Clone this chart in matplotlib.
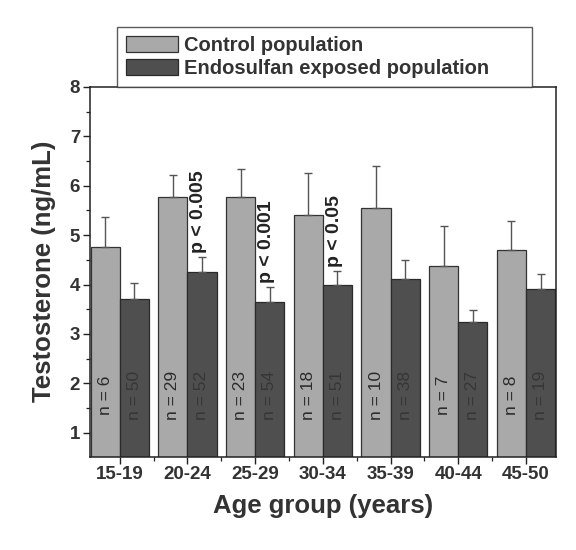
"""Serum testosterone by age group: control vs endosulfan exposed population."""

import matplotlib as mpl

mpl.use("Agg")
import matplotlib.pyplot as plt
import numpy as np
from matplotlib.ticker import FixedLocator, MultipleLocator

# age groups and group sizes
groups = ["15-19", "20-24", "25-29", "30-34", "35-39", "40-44", "45-50"]
n_control = [6, 29, 23, 18, 10, 7, 8]
n_exposed = [50, 52, 54, 51, 38, 27, 19]

# testosterone (ng/mL), mean and upper error (SD)
control_mean = [4.77, 5.78, 5.77, 5.40, 5.55, 4.38, 4.70]
control_err = [0.59, 0.44, 0.56, 0.86, 0.85, 0.80, 0.59]
exposed_mean = [3.71, 4.26, 3.65, 3.99, 4.11, 3.24, 3.91]
exposed_err = [0.33, 0.29, 0.31, 0.28, 0.38, 0.25, 0.30]

# significance labels (group index -> text)
p_labels = {1: "p < 0.005", 2: "p < 0.001", 3: "p < 0.05"}

FONT = ["Liberation Sans", "DejaVu Sans"]
C_COL = "#a9a9a9"
E_COL = "#4f4f4f"


def main():
    plt.rcParams["font.family"] = FONT
    fig = plt.figure(figsize=(5.76, 5.5), dpi=100)
    ax = fig.add_axes([0.156, 0.170, 0.809, 0.672])

    x = np.arange(1, len(groups) + 1)
    w = 0.43
    xc = x - w / 2
    xe = x + w / 2
    err_kw = dict(ecolor="#555555", elinewidth=1.0, capsize=3, capthick=1.0)
    ax.bar(xc, control_mean, w, color=C_COL, edgecolor="#333333",
           linewidth=0.9, yerr=[np.zeros(7), control_err], error_kw=err_kw,
           label="Control population")
    ax.bar(xe, exposed_mean, w, color=E_COL, edgecolor="#2a2a2a",
           linewidth=0.9, yerr=[np.zeros(7), exposed_err], error_kw=err_kw,
           label="Endosulfan exposed population")

    for i in range(len(groups)):
        ax.text(xc[i], 1.75, f"n = {n_control[i]}", rotation=90, ha="center",
                va="center", fontsize=12.5, color="#2b2b2b")
        ax.text(xe[i], 1.75, f"n = {n_exposed[i]}", rotation=90, ha="center",
                va="center", fontsize=12.5, color="#363636")
    for i, txt in p_labels.items():
        ytop = exposed_mean[i] + exposed_err[i] + 0.08
        ax.text(x[i] + 0.17, ytop, txt, rotation=90, ha="center", va="bottom",
                fontsize=14, fontweight="bold", color="#222222")

    ax.set_xlim(0.56, 7.44)
    ax.set_ylim(0.52, 8)
    ax.set_xticks(x)
    ax.set_xticklabels(groups)
    ax.xaxis.set_minor_locator(FixedLocator(x[:-1] + 0.5))
    ax.yaxis.set_major_locator(MultipleLocator(1))
    ax.yaxis.set_minor_locator(MultipleLocator(0.5))
    ax.tick_params(axis="both", which="major", direction="out", length=5,
                   width=1.0, labelsize=13.5, pad=2, colors="#222222")
    ax.tick_params(axis="both", which="minor", direction="out", length=3,
                   width=0.9, colors="#222222")
    for lab in ax.get_xticklabels() + ax.get_yticklabels():
        lab.set_fontweight("bold")
        lab.set_color("#333333")
    for s in ax.spines.values():
        s.set_linewidth(1.1)
        s.set_color("#222222")

    ax.set_xlabel("Age group (years)", fontsize=18.5, fontweight="bold",
                  color="#333333", labelpad=8)
    ax.set_ylabel("Testosterone (ng/mL)", fontsize=18.5, fontweight="bold",
                  color="#333333", labelpad=10)

    leg = ax.legend(loc="lower left", bbox_to_anchor=(0.058, 1.0, 0.89, 0.156),
                    mode="expand", ncol=1, frameon=True, fancybox=False,
                    borderpad=0.45, handlelength=2.6, handleheight=0.8,
                    handletextpad=0.3, labelspacing=0.2, borderaxespad=0.0,
                    prop={"weight": "bold", "size": 14.5})
    leg.get_frame().set_edgecolor("#333333")
    leg.get_frame().set_linewidth(1.0)
    for t in leg.get_texts():
        t.set_color("#333333")

    fig.savefig("out.png", dpi=100)
    plt.close(fig)


if __name__ == "__main__":
    main()
